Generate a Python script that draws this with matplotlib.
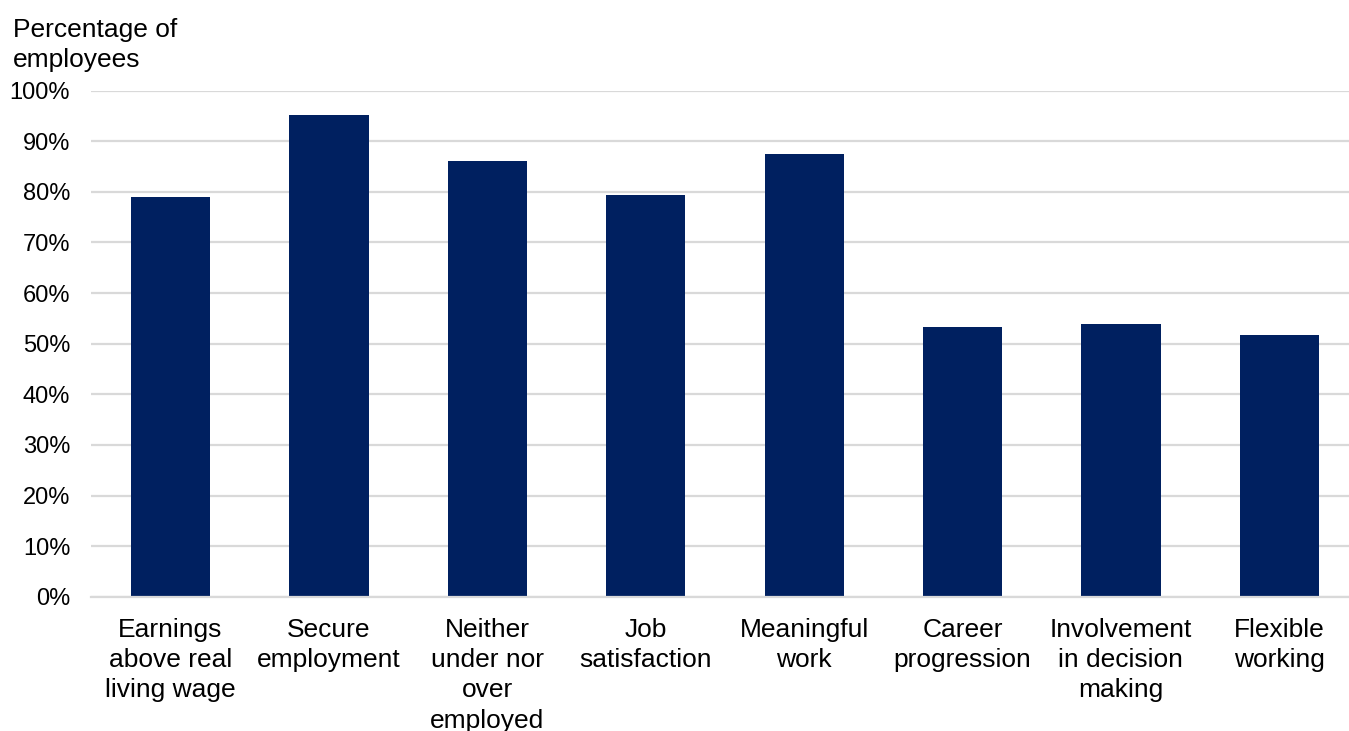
import matplotlib
matplotlib.use("Agg")
import matplotlib.pyplot as plt
from matplotlib.ticker import MultipleLocator, PercentFormatter

plt.rcParams["font.family"] = ["Liberation Sans", "DejaVu Sans"]

categories = [
    "Earnings\nabove real\nliving wage",
    "Secure\nemployment",
    "Neither\nunder nor\nover\nemployed",
    "Job\nsatisfaction",
    "Meaningful\nwork",
    "Career\nprogression",
    "Involvement\nin decision\nmaking",
    "Flexible\nworking",
]
values = [78.9, 95.2, 86.1, 79.4, 87.5, 53.3, 53.8, 51.7]

bar_color = "#002060"
grid_color = "#d9d9d9"

fig = plt.figure(figsize=(13.49, 7.31), dpi=100)
W, H = 1349, 731
left, right, top, bottom = 91, 1349, 90.7, 596.7
ax = fig.add_axes([left / W, 1 - bottom / H, (right - left) / W, (bottom - top) / H])

x = range(len(categories))
ax.bar(x, values, width=0.5, color=bar_color, zorder=3)

ax.set_ylim(0, 100)
ax.set_xlim(-0.502, 7.44)
ax.yaxis.set_major_locator(MultipleLocator(10))
ax.yaxis.set_major_formatter(PercentFormatter(decimals=0))
ax.grid(axis="y", color=grid_color, linewidth=1.6, zorder=0)
ax.set_axisbelow(True)

for side in ("top", "right", "left"):
    ax.spines[side].set_visible(False)
ax.spines["bottom"].set_color(grid_color)
ax.spines["bottom"].set_linewidth(1.6)
ax.spines["bottom"].set_zorder(4)

ax.set_xticks(list(x))
ax.set_xticklabels(categories, fontsize=19, linespacing=1.34)
ax.tick_params(axis="x", length=0, pad=15)
ax.tick_params(axis="y", length=0, pad=15, labelsize=17)

fig.text(13 / W, 1 - 18 / H, "Percentage of\nemployees", fontsize=19,
         ha="left", va="top", linespacing=1.3)

fig.savefig("out.png", dpi=100, facecolor="white")
